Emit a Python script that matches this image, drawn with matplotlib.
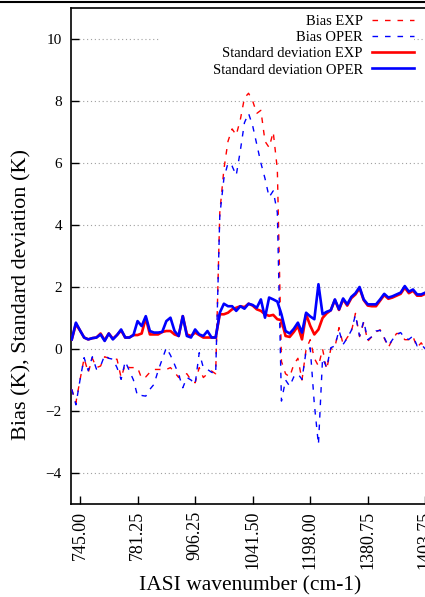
import numpy as np
import matplotlib
matplotlib.use("Agg")
import matplotlib.pyplot as plt
from matplotlib.lines import Line2D
from matplotlib.patches import Rectangle

plt.rcParams["font.family"] = ["Liberation Serif", "DejaVu Serif"]

# channel index along the x axis (categorical), first channel sits at -2
channels = np.arange(-2, 86)

bias_exp = [
    -1.30, -1.73, -1.00, -0.30, -0.76, -0.30, -0.60, -0.55, -0.25, -0.30,
    -0.33, -0.33, -0.92, -0.50, -0.60, -0.60, -0.60, -0.95, -0.90, -0.75,
    -0.66, -0.66, -0.66, -0.66, -0.60, -0.75, -0.92, -0.80, -0.80, -1.00,
    -1.09, -0.60, -0.92, -0.80, -0.71, -0.80, 4.40, 5.80, 6.70, 7.10,
    6.90, 7.40, 8.10, 8.25, 8.00, 7.60, 7.70, 6.70, 6.50, 7.00,
    5.80, -0.40, -0.80, -0.90, -0.50, -0.30, -1.00, 0.00, 0.30, -0.30,
    -0.55, 0.00, -0.66, 0.00, 0.05, 0.69, 0.15, 0.37, 0.55, 1.15,
    0.40, 0.85, 0.25, 0.40, 0.55, 0.62, 0.35, 0.05, 0.30, 0.50,
    0.50, 0.30, 0.30, 0.40, 0.05, 0.20, 0.00, 0.10,
]
bias_oper = [
    -1.30, -1.80, -1.00, -0.28, -0.70, -0.25, -0.65, -0.55, -0.20, -0.30,
    -0.33, -0.60, -0.98, -0.40, -0.70, -1.00, -1.52, -1.50, -1.52, -1.30,
    -1.14, -0.70, -0.33, 0.04, -0.20, -0.50, -0.82, -1.25, -0.92, -1.00,
    -1.14, -0.12, -0.60, -0.66, -0.75, -0.80, 4.30, 5.50, 6.00, 5.90,
    5.60, 6.40, 7.30, 7.60, 7.20, 6.60, 6.00, 5.50, 4.90, 5.10,
    4.40, -1.68, -1.00, -1.20, -0.90, -0.80, -0.98, -0.06, 0.04, -1.78,
    -3.08, -0.30, -0.60, 0.04, 0.10, 0.60, 0.15, 0.35, 0.60, 1.10,
    0.42, 0.90, 0.30, 0.40, 0.58, 0.60, 0.37, 0.10, 0.30, 0.47,
    0.53, 0.35, 0.31, 0.42, 0.10, 0.15, 0.00, 0.10,
]
std_exp = [
    0.31, 0.80, 0.60, 0.37, 0.31, 0.35, 0.37, 0.50, 0.28, 0.50,
    0.33, 0.45, 0.60, 0.37, 0.37, 0.45, 0.45, 0.50, 1.00, 0.47,
    0.47, 0.47, 0.55, 0.58, 0.58, 0.47, 0.42, 1.06, 0.47, 0.42,
    0.53, 0.45, 0.37, 0.37, 0.37, 0.37, 1.12, 1.12, 1.17, 1.28,
    1.33, 1.38, 1.35, 1.46, 1.40, 1.28, 1.23, 1.12, 1.07, 1.10,
    0.96, 0.93, 0.42, 0.39, 0.55, 0.74, 0.31, 1.12, 0.75, 0.47,
    0.63, 1.00, 1.15, 1.25, 1.58, 1.26, 1.60, 1.40, 1.64, 1.76,
    1.96, 1.58, 1.40, 1.38, 1.38, 1.56, 1.74, 1.62, 1.66, 1.72,
    1.78, 1.98, 1.80, 1.88, 1.72, 1.72, 1.78, 1.80,
]
std_oper = [
    0.31, 0.85, 0.60, 0.37, 0.31, 0.35, 0.37, 0.47, 0.26, 0.50,
    0.31, 0.45, 0.63, 0.37, 0.37, 0.45, 0.90, 0.74, 1.06, 0.58,
    0.53, 0.53, 0.55, 0.90, 1.01, 0.58, 0.42, 1.06, 0.42, 0.37,
    0.63, 0.47, 0.42, 0.58, 0.37, 0.37, 1.17, 1.46, 1.38, 1.38,
    1.23, 1.38, 1.30, 1.46, 1.42, 1.33, 1.60, 1.01, 1.66, 1.60,
    1.53, 1.12, 0.58, 0.50, 0.65, 0.85, 0.53, 1.17, 1.05, 0.96,
    2.09, 1.12, 1.20, 1.25, 1.60, 1.28, 1.63, 1.44, 1.68, 1.80,
    2.00, 1.60, 1.44, 1.44, 1.44, 1.60, 1.78, 1.66, 1.70, 1.76,
    1.82, 2.03, 1.85, 1.92, 1.76, 1.76, 1.82, 1.85,
]

tick_pos = [0, 14, 28, 42, 56, 70, 84]
tick_labels = ["745.00", "781.25", "906.25", "1041.50", "1198.00", "1380.75", "1403.75"]
y_ticks = [-4, -2, 0, 2, 4, 6, 8, 10]

W, H = 425, 597
fig = plt.figure(figsize=(W / 100, H / 100), dpi=100)
# plot area runs past the right edge, like the cropped original
ax = fig.add_axes([71 / W, 93 / H, 379 / W, 496 / H])

dash = (0, (4, 5))
ax.plot(channels, bias_exp, color="#ff0000", lw=1.0, linestyle=dash, label="Bias EXP", zorder=3)
ax.plot(channels, bias_oper, color="#0000ff", lw=1.0, linestyle=dash, label="Bias OPER", zorder=3)
ax.plot(channels, std_exp, color="#ff0000", lw=1.9, label="Standard deviation EXP", zorder=4)
ax.plot(channels, std_oper, color="#0000ff", lw=1.9, label="Standard deviation OPER", zorder=5)

ax.set_xlim(-2.19, 90)
ax.set_ylim(-5, 11)
ax.set_yticks(y_ticks)
ax.set_xticks(tick_pos)
ax.set_xticklabels(tick_labels, rotation=90, fontsize=13)
ax.tick_params(axis="y", direction="in", length=6, width=1, pad=6.5, labelsize=11)
ax.tick_params(axis="x", direction="in", length=6, width=1, pad=5)
ax.set_axisbelow(True)
ax.yaxis.grid(True, color="#a0a0a0", linestyle=(0, (1, 2.5)), lw=0.8)
for s in ax.spines.values():
    s.set_linewidth(1.2)

# white box behind the key hides the grid there
ax.add_patch(Rectangle((160 / W, 1 - 78 / H), 254 / W, 62 / H, transform=fig.transFigure,
                       facecolor="white", edgecolor="none", zorder=1))

fig.legend(loc="upper right", bbox_to_anchor=(414 / W, 1 - 15 / H), markerfirst=False,
           frameon=False, fontsize=10.5, handlelength=2.9, handletextpad=0.6,
           labelspacing=0.2, borderpad=0, borderaxespad=0)

fig.text(22 / W, 1 - 294 / H, "Bias (K), Standard deviation (K)", rotation=90,
         ha="center", va="center", fontsize=16)
fig.text(250 / W, 1 - 586 / H, "IASI wavenumber (cm-1)", ha="center", va="center", fontsize=15.5)

fig.add_artist(Line2D([0, 1], [1 - 1.5 / H] * 2, color="black", lw=1.5))

fig.savefig("out.png", dpi=100)
